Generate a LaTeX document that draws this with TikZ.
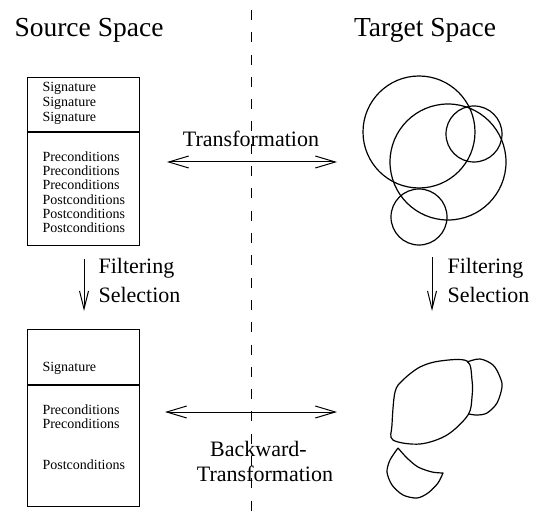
\documentclass[tikz,border=0pt]{standalone}
\usepackage{fontspec}
\setmainfont{Liberation Serif}
\usetikzlibrary{arrows.meta}
\begin{document}
\begin{tikzpicture}[x=1pt,y=-1pt, line width=1.1pt,
  bigtext/.style={font=\fontsize{27.5}{33}\selectfont, inner sep=0pt},
  midtext/.style={font=\fontsize{22}{27}\selectfont, inner sep=0pt},
  boxtext/.style={font=\fontsize{14}{14.3}\selectfont, inner sep=0pt, anchor=base west},
  specbox/.style={draw, line width=1.2pt, anchor=north west, inner sep=0pt, minimum width=112pt},
  ring/.style={draw, circle, inner sep=0pt, line width=1.2pt},
  harrow/.style={{Straight Barb[length=20pt,width=12pt]}-{Straight Barb[length=20pt,width=12pt]}, line width=1pt},
  varrow/.style={-{Straight Barb[length=18pt,width=9pt]}, line width=1pt},
  divider/.style={dash pattern=on 10pt off 12.3pt, line width=1pt},
  blob/.style={line width=1.2pt, line join=round}]
\useasboundingbox (0,0) rectangle (540,513);

% divider
\coordinate (dtop) at (251,10);
\coordinate (dbot) at (251,513);
\draw[divider] (dtop) -- (dbot);

% titles
\node[bigtext, anchor=base] (src) at (89,37) {Source Space};
\node[bigtext, anchor=base] (tgt) at (425,37) {Target Space};

% source boxes
\node[specbox, minimum height=168pt] (box1) at (27,77) {};
\coordinate (d1) at (27,132);
\draw[line width=1.2pt] (d1) -- (d1 -| box1.east);
\foreach \y [count=\i] in {92,107,122}
  \node[boxtext] (sig1-\i) at (42,\y) {Signature};
\foreach \y [count=\i] in {161.5,175.7,189.9}
  \node[boxtext] (pre1-\i) at (42,\y) {Preconditions};
\foreach \y [count=\i] in {204.1,218.3,232.5}
  \node[boxtext] (post1-\i) at (42,\y) {Postconditions};

\node[specbox, minimum height=177pt] (box2) at (27,329) {};
\coordinate (d2) at (27,385);
\draw[line width=1.2pt] (d2) -- (d2 -| box2.east);
\node[boxtext] (sig2) at (42,371) {Signature};
\node[boxtext] (pre2-1) at (42,414.3) {Preconditions};
\node[boxtext] (pre2-2) at (42,428.5) {Preconditions};
\node[boxtext] (post2) at (42,469.3) {Postconditions};

% transformation arrows
\coordinate (t1) at (167,162);
\coordinate (t2) at (337,162);
\draw[harrow] (t1) -- (t2);
\node[midtext, anchor=base] (tlab) at (251,146.7) {Transformation};

\coordinate (b1) at (165,412);
\coordinate (b2) at (337,412);
\draw[harrow] (b1) -- (b2);
\node[midtext, anchor=base] (blab1) at (258.5,456) {Backward-};
\node[midtext, anchor=base] (blab2) at (265,481.7) {Transformation};

% filtering arrows
\coordinate (f1) at (84,259);
\coordinate (f2) at (84,311);
\draw[varrow] (f1) -- (f2);
\node[midtext, anchor=base west] (flab1a) at (98,273.3) {Filtering};
\node[midtext, anchor=base west] (flab1b) at (98,302) {Selection};

\coordinate (g1) at (432,257);
\coordinate (g2) at (432,311);
\draw[varrow] (g1) -- (g2);
\node[midtext, anchor=base west] (flab2a) at (447,273.3) {Filtering};
\node[midtext, anchor=base west] (flab2b) at (447,302) {Selection};

% circles
\node[ring, minimum size=112pt] (c1) at (419,132) {};
\node[ring, minimum size=116pt] (c2) at (448,162) {};
\node[ring, minimum size=56pt] (c3) at (474,134) {};
\node[ring, minimum size=56pt] (c4) at (419,217) {};

% blobs
\draw[blob] plot[smooth cycle, tension=0.55] coordinates {
  (395,392) (403,380) (420,367) (440,361) (467,361) (472,380) (472,397)
  (468,415) (447,435) (420,444) (393,440) (392,425)};
\draw[blob] plot[smooth, tension=0.55] coordinates {
  (467,362) (480,359) (493,365) (500,377) (502,387) (497,403) (487,413) (477,415) (469,414)};
\draw[blob] plot[smooth, tension=0.5] coordinates {
  (398,448) (407,458) (418,467) (432,472) (443,473)}
  -- plot[smooth, tension=0.5] coordinates {
  (443,473) (438,483) (428,493) (417,498) (403,495) (392,485) (387,472) (390,460) (398,448)};
\end{tikzpicture}
\end{document}
